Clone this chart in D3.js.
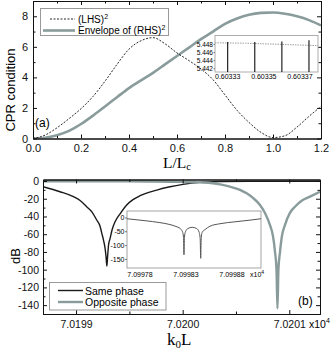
<!DOCTYPE html>
<html>
<head>
<meta charset="utf-8">
<script src="https://cdn.jsdelivr.net/npm/d3@7"></script>
<style>
  body { margin: 0; background: #fff; }
  svg { display: block; font-family: "Liberation Sans", Arial, sans-serif; }
  .serif { font-family: "Liberation Serif", "Times New Roman", serif; }
</style>
</head>
<body>
<svg id="chart" width="332" height="351"></svg>
<script>
// ---- panel (a): CPR condition vs L/Lc ----
const lengthRatio = [0, 0.05, 0.10, 0.15, 0.20, 0.25, 0.30, 0.35, 0.40, 0.45, 0.50, 0.55,
  0.60, 0.65, 0.70, 0.75, 0.80, 0.85, 0.90, 0.95, 1.00, 1.05, 1.10, 1.15, 1.20];
const lhsSquared = [0, 0.22, 0.7, 1.3, 1.95, 2.75, 3.75, 4.85, 5.85, 6.4, 6.6, 6.2,
  5.6, 5.1, 4.55, 3.85, 2.85, 1.85, 1.05, 0.4, 0.06, 0.18, 0.75, 1.45, 2.1];
const rhsEnvelope = [0, 0.05, 0.22, 0.5, 0.95, 1.5, 2.1, 2.7, 3.3, 3.8, 4.3, 4.85,
  5.4, 5.95, 6.5, 7.0, 7.5, 7.85, 8.1, 8.22, 8.25, 8.17, 8.0, 7.75, 7.4];
const topXTicks = [0, 0.2, 0.4, 0.6, 0.8, 1.0, 1.2];
const topXMinor = [0.1, 0.3, 0.5, 0.7, 0.9, 1.1];
const topYTicks = [0, 2, 4, 6, 8];
const topYMinor = [1, 3, 5, 7, 9];

// inset of (a)
const insetRatio = [0.603323, 0.60334, 0.60336, 0.60338];
const insetLhs = [5.4484, 5.4483, 5.4480, 5.4477];
const spikeRatio = [0.60333, 0.603345, 0.60336, 0.603375];
const spikeTop = [5.4486, 5.4486, 5.4487, 5.4490];
const insetAXTicks = [0.60333, 0.60335, 0.60337];
const insetAYTicks = [5.448, 5.446, 5.444, 5.442];

// ---- panel (b): dB vs k0L ----
const sameK = [7.0198691, 7.0198850, 7.0198975, 7.0199038, 7.0199100, 7.0199150, 7.0199194,
  7.0199225, 7.0199241, 7.0199258, 7.0199272, 7.0199281, 7.0199289, 7.0199296, 7.0199305,
  7.0199319, 7.0199338, 7.0199366, 7.0199413, 7.0199475, 7.0199534, 7.0199600, 7.0199757,
  7.0199881, 7.0200003, 7.0200163, 7.0200350, 7.0200631, 7.0201006, 7.0201288];
const sameDb = [-6.4, -12.1, -17.7, -22, -29, -35, -44, -51, -58.7, -67, -75.6, -85, -96,
  -85, -72, -65, -55, -46, -37, -27, -21, -16.6, -10.2, -6.5, -3.8, -1.5, -0.6, -0.3, -0.3, -0.3];
const oppositeK = [7.0198691, 7.0199319, 7.0199694, 7.0200003, 7.0200163, 7.0200284, 7.0200444,
  7.0200538, 7.0200600, 7.0200659, 7.0200725, 7.0200772, 7.0200819, 7.0200847, 7.0200866,
  7.0200880, 7.0200889, 7.0200898, 7.0200913, 7.0200931, 7.0200959, 7.0201006, 7.0201053,
  7.0201119, 7.0201194, 7.0201288];
const oppositeDb = [-0.3, -0.3, -0.5, -1.0, -1.6, -2.6, -6.4, -10, -13.9, -19, -27, -36, -49.7,
  -62, -79.8, -100, -143.7, -100, -79.8, -62, -49.7, -36, -29, -22, -17.7, -12.1];
const botXTicks = [7.0199, 7.0200, 7.0201];
const botXMinor = [7.01995, 7.02005];
const botYTicks = [0, -20, -40, -60, -80, -100, -120, -140];
const botYMinor = [-10, -30, -50, -70, -90, -110, -130, -150];

// inset of (b)
const insetK = [7.0997659, 7.0997854, 7.0998017, 7.0998126, 7.0998191, 7.0998235, 7.0998262,
  7.0998273, 7.0998278, 7.0998283, 7.0998294, 7.0998322, 7.0998368, 7.0998414, 7.0998443,
  7.0998454, 7.0998460, 7.0998465, 7.0998476, 7.0998507, 7.0998561, 7.0998670, 7.0998833,
  7.0998996, 7.0999115];
const insetDb = [-3, -10, -17, -24, -31, -38, -50, -70, -133, -70, -50, -38, -34, -38, -52,
  -75, -146, -75, -52, -42, -30, -21, -14, -8, -3];
const insetBXTicks = [7.09978, 7.09983, 7.09988];
const insetBYTicks = [0, -50, -100, -150];

const grayColor = "#8a9b9b";
const svg = d3.select("#chart");

// Draw a framed plot with inward ticks on all four sides
function drawFrame(x, y, opt) {
    const [x0, x1] = x.range();
    const [y0, y1] = y.range();
    const g = svg.append("g");
    g.append("g").attr("transform", `translate(0,${y0})`)
        .call(d3.axisBottom(x).tickValues(opt.xTicks).tickSize(-4).tickSizeOuter(0)
            .tickPadding(opt.xPad).tickFormat(opt.xFormat));
    g.append("g").attr("transform", `translate(0,${y0})`)
        .call(d3.axisBottom(x).tickValues(opt.xMinor).tickSize(-2.5).tickSizeOuter(0).tickFormat(""));
    g.append("g").attr("transform", `translate(0,${y1})`)
        .call(d3.axisTop(x).tickValues(opt.xTicks).tickSize(-4).tickSizeOuter(0).tickFormat(""));
    g.append("g").attr("transform", `translate(0,${y1})`)
        .call(d3.axisTop(x).tickValues(opt.xMinor).tickSize(-2.5).tickSizeOuter(0).tickFormat(""));
    g.append("g").attr("transform", `translate(${x0},0)`)
        .call(d3.axisLeft(y).tickValues(opt.yTicks).tickSize(-4).tickSizeOuter(0)
            .tickPadding(opt.yPad).tickFormat(d => String(d)));
    g.append("g").attr("transform", `translate(${x0},0)`)
        .call(d3.axisLeft(y).tickValues(opt.yMinor).tickSize(-2.5).tickSizeOuter(0).tickFormat(""));
    g.append("g").attr("transform", `translate(${x1},0)`)
        .call(d3.axisRight(y).tickValues(opt.yTicks).tickSize(-4).tickSizeOuter(0).tickFormat(""));
    g.append("g").attr("transform", `translate(${x1},0)`)
        .call(d3.axisRight(y).tickValues(opt.yMinor).tickSize(-2.5).tickSizeOuter(0).tickFormat(""));
    g.selectAll("text").attr("font-size", opt.fontSize).attr("font-family", null).attr("fill", "#111");
    g.selectAll("path.domain, line").attr("stroke", "#111");
}

function clipTo(id, x, y) {
    svg.append("clipPath").attr("id", id).append("rect")
        .attr("x", x.range()[0]).attr("y", y.range()[1])
        .attr("width", x.range()[1] - x.range()[0])
        .attr("height", y.range()[0] - y.range()[1]);
}

// ================= panel (a) =================
const topX = d3.scaleLinear().domain([0, 1.2]).range([33, 321]);
const topY = d3.scaleLinear().domain([0, 9]).range([138.5, 1]);
clipTo("clipA", topX, topY);

const lineA = d3.line().curve(d3.curveMonotoneX);
const plotA = svg.append("g").attr("clip-path", "url(#clipA)");
plotA.append("path")
    .attr("d", lineA(lengthRatio.map((d, i) => [topX(d), topY(rhsEnvelope[i])])))
    .attr("fill", "none").attr("stroke", grayColor).attr("stroke-width", 2.6);
plotA.append("path")
    .attr("d", lineA(lengthRatio.map((d, i) => [topX(d), topY(lhsSquared[i])])))
    .attr("fill", "none").attr("stroke", "#111").attr("stroke-width", 0.9)
    .attr("stroke-dasharray", "2,1.5");

drawFrame(topX, topY, {
    xTicks: topXTicks, xMinor: topXMinor, yTicks: topYTicks, yMinor: topYMinor,
    xFormat: d3.format(".1f"), xPad: 6, yPad: 5, fontSize: 11
});

svg.append("text").attr("class", "serif").attr("x", 163).attr("y", 168)
    .attr("font-size", 15.5).text("L/L")
    .append("tspan").attr("font-size", 10.5).attr("dy", 2).text("c");
svg.append("text").attr("transform", "translate(15,90) rotate(-90)")
    .attr("text-anchor", "middle").attr("font-size", 13).text("CPR condition");
svg.append("text").attr("x", 35).attr("y", 127).attr("font-size", 12).text("(a)");

// legend (a)
const legA = svg.append("g");
legA.append("rect").attr("x", 40.5).attr("y", 8.5).attr("width", 128).attr("height", 27)
    .attr("fill", "#fff").attr("stroke", "#999").attr("stroke-width", 1);
legA.append("line").attr("x1", 50).attr("x2", 75).attr("y1", 19).attr("y2", 19)
    .attr("stroke", "#111").attr("stroke-width", 0.9).attr("stroke-dasharray", "2,1.5");
legA.append("line").attr("x1", 43).attr("x2", 75).attr("y1", 30.5).attr("y2", 30.5)
    .attr("stroke", grayColor).attr("stroke-width", 2.6);
const lhsText = legA.append("text").attr("x", 78).attr("y", 23).attr("font-size", 10).text("(LHS)");
lhsText.append("tspan").attr("font-size", 7).attr("dy", -4).text("2");
const rhsText = legA.append("text").attr("x", 78).attr("y", 34).attr("font-size", 10).text("Envelope of (RHS)");
rhsText.append("tspan").attr("font-size", 7).attr("dy", -4).text("2");

// inset (a)
const inAX = d3.scaleLinear().domain([0.603323, 0.60338]).range([215, 318]);
const inAY = d3.scaleLinear().domain([5.4412, 5.4502]).range([72, 35.5]);
const insetA = svg.append("g");
insetA.append("rect").attr("x", 215).attr("y", 35.5).attr("width", 103).attr("height", 36.5)
    .attr("fill", "#fff").attr("stroke", "#999").attr("stroke-width", 0.8);
insetA.append("path")
    .attr("d", d3.line()(insetRatio.map((d, i) => [inAX(d), inAY(insetLhs[i])])))
    .attr("fill", "none").attr("stroke", "#888").attr("stroke-width", 0.8)
    .attr("stroke-dasharray", "1.5,1");
insetA.selectAll("line.spike").data(spikeRatio).join("line").attr("class", "spike")
    .attr("x1", d => inAX(d)).attr("x2", d => inAX(d))
    .attr("y1", inAY.range()[0]).attr("y2", (d, i) => inAY(spikeTop[i]))
    .attr("stroke", "#222").attr("stroke-width", 1.2);
insetA.selectAll("text.yl").data(insetAYTicks).join("text").attr("class", "yl")
    .attr("x", 213).attr("y", d => inAY(d) + 2.3).attr("text-anchor", "end")
    .attr("font-size", 6.5).text(d => d3.format(".3f")(d));
insetA.selectAll("line.yt").data(insetAYTicks).join("line").attr("class", "yt")
    .attr("x1", 213.5).attr("x2", 215).attr("y1", d => inAY(d)).attr("y2", d => inAY(d))
    .attr("stroke", "#333").attr("stroke-width", 0.6);
insetA.selectAll("text.xl").data(insetAXTicks).join("text").attr("class", "xl")
    .attr("x", d => inAX(d)).attr("y", 79).attr("text-anchor", "middle")
    .attr("font-size", 7).text(d => d3.format(".5f")(d));

// ================= panel (b) =================
const botX = d3.scaleLinear().domain([7.019869, 7.0201288]).range([43, 320]);
const botY = d3.scaleLinear().domain([-150, 1.7]).range([314, 179.5]);
clipTo("clipB", botX, botY);

const lineB = d3.line().curve(d3.curveMonotoneX);
const plotB = svg.append("g").attr("clip-path", "url(#clipB)");
plotB.append("path")
    .attr("d", lineB(sameK.map((d, i) => [botX(d), botY(sameDb[i])])))
    .attr("fill", "none").attr("stroke", "#1a1a1a").attr("stroke-width", 1.4);
plotB.append("path")
    .attr("d", lineB(oppositeK.map((d, i) => [botX(d), botY(oppositeDb[i])])))
    .attr("fill", "none").attr("stroke", grayColor).attr("stroke-width", 2.4);

drawFrame(botX, botY, {
    xTicks: botXTicks, xMinor: botXMinor, yTicks: botYTicks, yMinor: botYMinor,
    xFormat: d3.format(".4f"), xPad: 6.5, yPad: 4, fontSize: 10.5
});

const expB = svg.append("text").attr("x", 309).attr("y", 328).attr("font-size", 10.5).text("x10");
expB.append("tspan").attr("font-size", 7).attr("dy", -5).text("4");
const kLabel = svg.append("text").attr("class", "serif").attr("x", 167).attr("y", 345)
    .attr("font-size", 17).text("k");
kLabel.append("tspan").attr("font-size", 11).attr("dy", 3).text("0");
kLabel.append("tspan").attr("dy", -3).text("L");
svg.append("text").attr("transform", "translate(20,256) rotate(-90)")
    .attr("text-anchor", "middle").attr("font-size", 13).text("dB");
svg.append("text").attr("x", 298).attr("y", 305).attr("font-size", 12).text("(b)");

// legend (b)
const legB = svg.append("g");
legB.append("rect").attr("x", 49.5).attr("y", 282.5).attr("width", 116.5).attr("height", 27.5)
    .attr("fill", "#fff").attr("stroke", "#999").attr("stroke-width", 1);
legB.append("line").attr("x1", 58).attr("x2", 83).attr("y1", 290.5).attr("y2", 290.5)
    .attr("stroke", "#1a1a1a").attr("stroke-width", 1.4);
legB.append("line").attr("x1", 58).attr("x2", 83).attr("y1", 302).attr("y2", 302)
    .attr("stroke", grayColor).attr("stroke-width", 2.4);
legB.append("text").attr("x", 85).attr("y", 294.5).attr("font-size", 10.5).text("Same phase");
legB.append("text").attr("x", 85).attr("y", 305.5).attr("font-size", 10.5).text("Opposite phase");

// inset (b)
const inBX = d3.scaleLinear().domain([7.0997659, 7.0999115]).range([127, 261]);
const inBY = d3.scaleLinear().domain([-181, 25]).range([268, 211]);
const insetB = svg.append("g");
insetB.append("rect").attr("x", 127).attr("y", 211).attr("width", 134).attr("height", 57)
    .attr("fill", "#fff").attr("stroke", "#999").attr("stroke-width", 0.9);
insetB.append("path")
    .attr("d", d3.line().curve(d3.curveMonotoneX)(insetK.map((d, i) => [inBX(d), inBY(insetDb[i])])))
    .attr("fill", "none").attr("stroke", "#555").attr("stroke-width", 1);
insetB.selectAll("text.yl").data(insetBYTicks).join("text").attr("class", "yl")
    .attr("x", 124.5).attr("y", d => inBY(d) + 2.5).attr("text-anchor", "end")
    .attr("font-size", 7).text(d => String(d));
insetB.selectAll("line.yt").data(insetBYTicks).join("line").attr("class", "yt")
    .attr("x1", 125).attr("x2", 127).attr("y1", d => inBY(d)).attr("y2", d => inBY(d))
    .attr("stroke", "#333").attr("stroke-width", 0.6);
insetB.selectAll("text.xl").data(insetBXTicks).join("text").attr("class", "xl")
    .attr("x", d => inBX(d)).attr("y", 277).attr("text-anchor", "middle")
    .attr("font-size", 7).text(d => d3.format(".5f")(d));
const expIn = insetB.append("text").attr("x", 250).attr("y", 277).attr("font-size", 7).text("x10");
expIn.append("tspan").attr("font-size", 5).attr("dy", -3).text("4");
</script>
</body>
</html>
